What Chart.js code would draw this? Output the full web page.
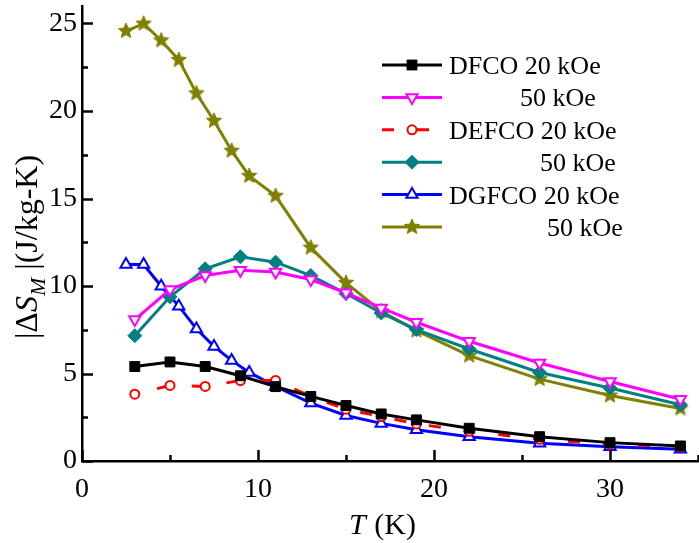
<!DOCTYPE html>
<html>
<head>
<meta charset="utf-8">
<script src="https://cdn.jsdelivr.net/npm/chart.js@4/dist/chart.umd.min.js"></script>
<style>
  html, body { margin: 0; padding: 0; background: #fff; }
  #wrap { width: 699px; height: 543px; }
</style>
</head>
<body>
<div id="wrap"><canvas id="c" width="699" height="543"></canvas></div>
<script>
// ---- data ----
const tempsA = [3, 5, 7, 9, 11, 13, 15, 17, 19, 22, 26, 30, 34];
const tempsB = [2.5, 3.5, 4.5, 5.5, 6.5, 7.5, 8.5, 9.5, 11, 13, 15, 17, 19, 22, 26, 30, 34];

const dfco20  = [5.40, 5.66, 5.40, 4.87, 4.25, 3.69, 3.17, 2.69, 2.35, 1.87, 1.39, 1.05, 0.86];
const dfco50  = [8.08, 9.80, 10.60, 10.90, 10.80, 10.37, 9.61, 8.75, 7.93, 6.84, 5.60, 4.54, 3.53];
const defco20 = [3.82, 4.32, 4.26, 4.60, 4.60, 3.69, 2.96, 2.54, 2.12, 1.70, 1.24, 0.97, 0.82];
const defco50 = [7.16, 9.38, 10.98, 11.67, 11.36, 10.60, 9.57, 8.46, 7.51, 6.40, 5.06, 4.17, 3.21];
const dgfco20 = [11.23, 11.23, 9.99, 8.85, 7.55, 6.55, 5.75, 5.06, 4.26, 3.31, 2.60, 2.15, 1.78, 1.39, 1.01, 0.82, 0.67];
const dgfco50 = [24.57, 24.99, 24.03, 22.92, 21.01, 19.44, 17.73, 16.29, 15.15, 12.19, 10.18, 8.56, 7.45, 6.02, 4.68, 3.74, 3.00];

const seriesLabels = ['DFCO 20 kOe', '50 kOe', 'DEFCO 20 kOe', '50 kOe', 'DGFCO 20 kOe', '50 kOe'];
const xTickValues = [0, 10, 20, 30];
const yTickValues = [0, 5, 10, 15, 20, 25];
const xTitleMain = 'T';
const xTitleRest = ' (K)';

// ---- styling ----
const FONT = '"Liberation Serif", "Times New Roman", serif';
const OLIVE = '#808000', TEAL = '#008080', MAGENTA = '#ff00ff', BLUE = '#0000ff', RED = '#ff0000', BLACK = '#000000';

function makeStar(color, R) {
  const c = document.createElement('canvas');
  const s = Math.ceil(R * 2 + 4);
  c.width = s; c.height = s;
  const g = c.getContext('2d');
  const cx = s / 2, cy = s / 2, r = R * 0.45;
  g.beginPath();
  for (let i = 0; i < 10; i++) {
    const a = -Math.PI / 2 + i * Math.PI / 5;
    const rr = i % 2 === 0 ? R : r;
    g.lineTo(cx + rr * Math.cos(a), cy + rr * Math.sin(a));
  }
  g.closePath();
  g.fillStyle = color;
  g.fill();
  g.lineWidth = 1;
  g.strokeStyle = color;
  g.stroke();
  return c;
}
const starImg = makeStar(OLIVE, 8);

function pts(xs, ys) { return xs.map((x, i) => ({ x: x, y: ys[i] })); }

const datasets = [
  { label: seriesLabels[0], data: pts(tempsA, dfco20), borderColor: BLACK, backgroundColor: BLACK,
    pointStyle: 'rect', pointRadius: 7, pointBorderWidth: 1, borderWidth: 3 },
  { label: seriesLabels[1], data: pts(tempsA, dfco50), borderColor: MAGENTA, backgroundColor: '#ffffff',
    pointStyle: 'triangle', pointRotation: 180, pointRadius: 6.5, pointBorderWidth: 2, borderWidth: 3 },
  { label: seriesLabels[2], data: pts(tempsA, defco20), borderColor: RED, backgroundColor: '#ffffff',
    pointStyle: 'circle', pointRadius: 4.5, pointBorderWidth: 2, borderWidth: 3,
    borderDash: [12, 23], borderDashOffset: 12 },
  { label: seriesLabels[3], data: pts(tempsA, defco50), borderColor: TEAL, backgroundColor: TEAL,
    pointStyle: 'rectRot', pointRadius: 7, pointBorderWidth: 1, borderWidth: 3 },
  { label: seriesLabels[4], data: pts(tempsB, dgfco20), borderColor: BLUE, backgroundColor: '#ffffff',
    pointStyle: 'triangle', pointRadius: 6.5, pointBorderWidth: 2, borderWidth: 3 },
  { label: seriesLabels[5], data: pts(tempsB, dgfco50), borderColor: OLIVE, backgroundColor: OLIVE,
    pointStyle: starImg, pointRadius: 8, borderWidth: 3 }
];
datasets.forEach(d => { d.tension = 0; d.fill = false; d.pointHoverRadius = d.pointRadius; });

// ---- custom marker for the legend ----
function drawMarker(ctx, ds, x, y) {
  ctx.save();
  ctx.lineWidth = ds.pointBorderWidth || 1;
  ctx.strokeStyle = ds.borderColor;
  ctx.fillStyle = ds.backgroundColor;
  ctx.setLineDash([]);
  const r = ds.pointRadius;
  const st = ds.pointStyle;
  ctx.beginPath();
  if (st === 'rect') {
    const s = r * Math.SQRT1_2;
    ctx.rect(x - s, y - s, 2 * s, 2 * s);
  } else if (st === 'rectRot') {
    ctx.moveTo(x - r, y); ctx.lineTo(x, y - r); ctx.lineTo(x + r, y); ctx.lineTo(x, y + r); ctx.closePath();
  } else if (st === 'circle') {
    ctx.arc(x, y, r, 0, Math.PI * 2);
  } else if (st === 'triangle') {
    const rot = (ds.pointRotation || 0) * Math.PI / 180;
    for (let i = 0; i < 3; i++) {
      const a = rot + i * 2 * Math.PI / 3;
      ctx.lineTo(x + Math.sin(a) * r, y - Math.cos(a) * r);
    }
    ctx.closePath();
  } else if (st instanceof HTMLCanvasElement) {
    ctx.drawImage(st, x - st.width / 2, y - st.height / 2);
    ctx.restore();
    return;
  }
  ctx.fill();
  ctx.stroke();
  ctx.restore();
}

const legendTextX = [449, 520, 449, 540, 449, 547];

const decorPlugin = {
  id: 'decor',
  afterDraw(chart) {
    const ctx = chart.ctx;
    const xs = chart.scales.x, ys = chart.scales.y;
    const area = chart.chartArea;
    ctx.save();
    // inward tick marks
    ctx.strokeStyle = '#000';
    ctx.lineWidth = 2.5;
    ctx.setLineDash([]);
    for (let v = 0; v <= 35; v += 5) {
      const px = Math.round(xs.getPixelForValue(v)) + 0.5;
      const len = v % 10 === 0 ? 11 : 6;
      ctx.beginPath(); ctx.moveTo(px, area.bottom); ctx.lineTo(px, area.bottom - len); ctx.stroke();
    }
    for (let v = 0; v <= 25; v += 2.5) {
      const py = Math.round(ys.getPixelForValue(v)) + 0.5;
      const len = v % 5 === 0 ? 11 : 6;
      ctx.beginPath(); ctx.moveTo(area.left, py); ctx.lineTo(area.left + len, py); ctx.stroke();
    }

    // x tick labels
    ctx.fillStyle = '#000';
    ctx.font = '28px ' + FONT;
    ctx.textAlign = 'center';
    ctx.textBaseline = 'alphabetic';
    xTickValues.forEach(v => {
      ctx.fillText(String(v), xs.getPixelForValue(v), area.bottom + 36);
    });

    // legend
    chart.data.datasets.forEach((ds, i) => {
      const yRow = 65 + i * 32.4;
      ctx.save();
      ctx.strokeStyle = ds.borderColor;
      ctx.lineWidth = 3;
      ctx.setLineDash(ds.borderDash || []);
      ctx.lineDashOffset = 0;
      ctx.beginPath(); ctx.moveTo(382, yRow); ctx.lineTo(442, yRow); ctx.stroke();
      ctx.restore();
      drawMarker(ctx, ds, 412, yRow);
      ctx.fillStyle = '#000';
      ctx.font = '26px ' + FONT;
      ctx.textAlign = 'left';
      ctx.textBaseline = 'alphabetic';
      ctx.fillText(ds.label, legendTextX[i], yRow + 9);
    });

    // x title: italic T + " (K)"
    ctx.fillStyle = '#000';
    ctx.textBaseline = 'alphabetic';
    ctx.textAlign = 'left';
    const fItal = 'italic 30px ' + FONT, fNorm = '30px ' + FONT;
    ctx.font = fItal; const wT = ctx.measureText(xTitleMain).width;
    ctx.font = fNorm; const wR = ctx.measureText(xTitleRest).width;
    let x0 = 382 - (wT + wR) / 2;
    const by = 534;
    ctx.font = fItal; ctx.fillText(xTitleMain, x0, by);
    ctx.font = fNorm; ctx.fillText(xTitleRest, x0 + wT + 1, by);

    // y title: |ΔS_M |(J/kg-K), rotated
    ctx.save();
    ctx.translate(37, 247);
    ctx.rotate(-Math.PI / 2);
    const yN = '32px ' + FONT, yI = 'italic 32px ' + FONT;
    const parts = [
      { t: '|\u0394', f: yN, dy: 0 },
      { t: 'S', f: yI, dy: 0 },
      { t: 'M', f: 'italic 22px ' + FONT, dy: 8 },
      { t: ' |(J/kg-K)', f: yN, dy: 0 }
    ];
    let total = 0;
    parts.forEach(p => { ctx.font = p.f; p.w = ctx.measureText(p.t).width; total += p.w; });
    let cx = -total / 2;
    parts.forEach(p => { ctx.font = p.f; ctx.fillText(p.t, cx, p.dy); cx += p.w; });
    ctx.restore();

    ctx.restore();
  }
};

function zeroPad(s) { s.paddingTop = 0; s.paddingBottom = 0; s.paddingLeft = 0; s.paddingRight = 0; }

new Chart(document.getElementById('c'), {
  type: 'line',
  data: { datasets: datasets },
  options: {
    responsive: false,
    animation: false,
    devicePixelRatio: 1,
    layout: { autoPadding: false, padding: { top: 6, right: 1, left: 0, bottom: 0 } },
    plugins: { legend: { display: false }, tooltip: { enabled: false } },
    scales: {
      x: {
        type: 'linear', min: 0, max: 35,
        afterFit(s) { s.height = 82; zeroPad(s); },
        afterBuildTicks(s) { s.ticks = xTickValues.map(v => ({ value: v })); },
        grid: { display: false, drawTicks: false },
        border: { display: true, color: '#000', width: 2.5 },
        ticks: { display: false }
      },
      y: {
        type: 'linear', min: 0, max: 26,
        afterFit(s) { s.width = 82; zeroPad(s); },
        afterBuildTicks(s) { s.ticks = yTickValues.map(v => ({ value: v })); },
        grid: { display: false, drawTicks: false },
        border: { display: true, color: '#000', width: 2.5 },
        ticks: { color: '#000', font: { family: FONT, size: 28 }, padding: 5, autoSkip: false }
      }
    }
  },
  plugins: [decorPlugin]
});
</script>
</body>
</html>
